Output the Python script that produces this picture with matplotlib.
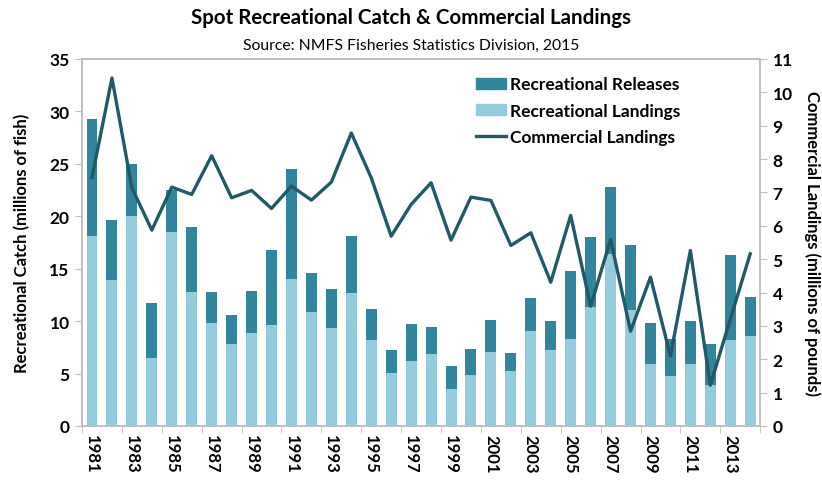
import matplotlib.pyplot as plt
from matplotlib.lines import Line2D
from matplotlib.patches import Patch

plt.rcParams['font.family'] = ['Lato', 'DejaVu Sans']

#values
years = list(range(1981, 2015))
rec_landings = [18.1, 13.9, 20.0, 6.5, 18.5, 12.8, 9.8, 7.8, 8.9, 9.6,
                14.0, 10.9, 9.3, 12.7, 8.2, 5.1, 6.2, 6.9, 3.5, 4.9,
                7.1, 5.2, 9.1, 7.2, 8.3, 11.3, 16.4, 11.1, 5.9, 4.8,
                5.9, 3.9, 8.2, 8.6]
rec_releases = [11.2, 5.7, 5.0, 5.2, 4.0, 6.2, 3.0, 2.8, 4.0, 7.2,
                10.5, 3.7, 3.8, 5.4, 3.0, 2.1, 3.5, 2.5, 2.2, 2.4,
                3.0, 1.8, 3.1, 2.8, 6.5, 6.7, 6.4, 6.2, 3.9, 3.5,
                4.1, 3.9, 8.1, 3.7]
commercial = [7.45, 10.43, 7.14, 5.87, 7.16, 6.94, 8.1, 6.84, 7.06, 6.52,
              7.19, 6.77, 7.31, 8.78, 7.44, 5.69, 6.64, 7.29, 5.57, 6.86,
              6.76, 5.41, 5.79, 4.31, 6.31, 3.59, 5.59, 2.84, 4.46, 2.1,
              5.26, 1.22, 3.2, 5.16]

light = '#93CDDD'
dark = '#31859C'
line_col = '#215968'
grey = '#BFBFBF'

x = list(range(len(years)))

fig = plt.figure(figsize=(8.22, 4.81), dpi=100)
ax = fig.add_axes([0.0998, 0.1123, 0.825, 0.763])

ax.bar(x, rec_landings, width=0.55, color=light)
ax.bar(x, rec_releases, width=0.55, bottom=rec_landings, color=dark)
ax.set_xlim(-0.5, len(years) - 0.5)
ax.set_ylim(0, 35)
ax.set_yticks(range(0, 36, 5))

ax2 = ax.twinx()
ax2.plot(x, commercial, color=line_col, linewidth=2.4)
ax2.set_ylim(0, 11)
ax2.set_yticks(range(0, 12))

#year labels every other year, ticks on category boundaries
ax.set_xticks(x[::2])
ax.set_xticklabels([str(y) for y in years[::2]], rotation=270,
                   fontsize=12, fontweight='bold')
ax.set_xticks([i - 0.5 for i in range(0, len(years) + 1, 2)], minor=True)
ax.tick_params(axis='x', which='major', length=0, pad=6)
ax.tick_params(axis='x', which='minor', length=5, color=grey, direction='out')

for a in (ax, ax2):
    for s in a.spines.values():
        s.set_color(grey)
        s.set_linewidth(1.2)
ax.tick_params(axis='y', length=5, color=grey, labelsize=12.5, pad=4)
ax2.tick_params(axis='y', length=5, color=grey, labelsize=12.5, pad=4)
for t in ax.get_yticklabels() + ax2.get_yticklabels():
    t.set_fontweight('bold')

ax.set_ylabel('Recreational Catch (millions of fish)', fontsize=12,
              fontweight='bold', labelpad=14)
ax2.set_ylabel('Commercial Landings (millions of pounds)', fontsize=12,
               fontweight='bold', rotation=270, labelpad=20)

fig.text(0.5, 0.962, 'Spot Recreational Catch & Commercial Landings',
         ha='center', va='center', fontsize=14.8, fontweight='bold')
fig.text(0.5, 0.905, 'Source: NMFS Fisheries Statistics Division, 2015',
         ha='center', va='center', fontsize=11.3)

handles = [Patch(color=dark), Patch(color=light),
           Line2D([], [], color=line_col, linewidth=2.4)]
labels = ['Recreational Releases', 'Recreational Landings', 'Commercial Landings']
ax2.legend(handles, labels, loc='upper left', bbox_to_anchor=(0.558, 0.995),
           frameon=False, prop={'size': 12.5, 'weight': 'bold'},
           handlelength=1.75, handleheight=0.6, labelspacing=0.6,
           handletextpad=0.2)

fig.savefig('out.png', dpi=100)
